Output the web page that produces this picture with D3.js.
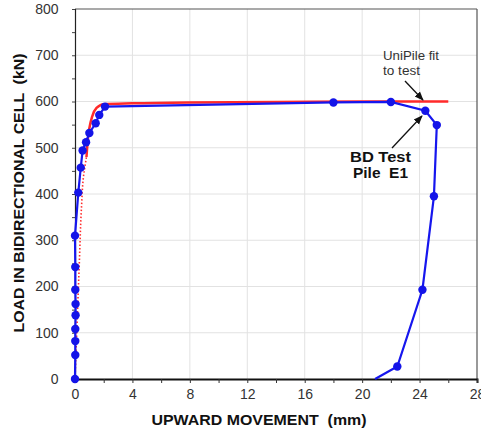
<!DOCTYPE html>
<html>
<head>
<meta charset="utf-8">
<script src="https://cdn.jsdelivr.net/npm/d3@7"></script>
<style>
  body { margin: 0; background: #fff; }
  text { font-family: Arial, "Liberation Sans", sans-serif; white-space: pre; }
</style>
</head>
<body>
<svg width="481" height="430"></svg>
<script>
// BD test, pile E1 - measured points
var testMove = [0, 0.02, 0.02, 0.02, 0.04, 0.04, 0.02, 0.02, 0.0, 0.23, 0.4, 0.53, 0.77, 1.0, 1.44, 1.69, 2.09, 18.0, 22.0, 24.4, 25.2, 25.0, 24.2, 22.45, 20.9];
var testLoad = [0, 52, 82, 108, 138, 162, 193, 242, 310, 403, 457, 494, 512, 532, 553, 571, 589, 598, 599, 580, 549, 395, 193, 27, 0];
var testMarker = [1, 1, 1, 1, 1, 1, 1, 1, 1, 1, 1, 1, 1, 1, 1, 1, 1, 1, 1, 1, 1, 1, 1, 1, 0];

// UniPile fit
var fitDotMove = [0, 0.12, 0.3, 0.45, 0.6, 0.8];
var fitDotLoad = [0, 100, 250, 370, 440, 480];
var fitMove = [0.8, 0.9, 1.0, 1.2, 1.5, 2.0, 4, 8, 14, 20, 26];
var fitLoad = [480, 520, 542, 568, 586, 594, 596, 598, 599, 600, 600];

var xTicks = [0, 4, 8, 12, 16, 20, 24, 28];
var yTicks = [0, 100, 200, 300, 400, 500, 600, 700, 800];

var svg = d3.select("svg");
var mLeft = 75, mRight = 477, mTop = 9, mBottom = 379;

var x = d3.scaleLinear().domain([0, 28]).range([mLeft, mRight]);
var y = d3.scaleLinear().domain([0, 800]).range([mBottom, mTop]);

var defs = svg.append("defs");
defs.append("marker")
    .attr("id", "arr")
    .attr("viewBox", "0 0 10 10")
    .attr("refX", 9).attr("refY", 5)
    .attr("markerWidth", 7).attr("markerHeight", 7)
    .attr("orient", "auto")
  .append("path")
    .attr("d", "M0,1 L10,5 L0,9 z")
    .attr("fill", "#111");

// grid
svg.append("g").selectAll("line")
    .data(xTicks.slice(1, -1))
    .enter().append("line")
      .attr("x1", function(d) { return x(d); })
      .attr("x2", function(d) { return x(d); })
      .attr("y1", mTop).attr("y2", mBottom)
      .attr("stroke", "#e2e2e2");
svg.append("g").selectAll("line")
    .data(yTicks.slice(1, -1))
    .enter().append("line")
      .attr("y1", function(d) { return y(d); })
      .attr("y2", function(d) { return y(d); })
      .attr("x1", mLeft).attr("x2", mRight)
      .attr("stroke", "#e2e2e2");

// frame
svg.append("line").attr("x1", mLeft).attr("x2", mRight).attr("y1", mTop).attr("y2", mTop)
    .attr("stroke", "#555").attr("stroke-width", 1.2);
svg.append("line").attr("x1", mRight).attr("x2", mRight).attr("y1", mTop).attr("y2", mBottom)
    .attr("stroke", "#555").attr("stroke-width", 1.2);

// axes
var xAxis = svg.append("g")
    .attr("transform", "translate(0," + mBottom + ")")
    .call(d3.axisBottom(x).tickValues(d3.range(0, 29, 2)).tickSize(4)
      .tickFormat(function(d) { return d % 4 === 0 ? d : ""; }));
xAxis.select(".domain").attr("stroke", "#111").attr("stroke-width", 2);
xAxis.selectAll(".tick line").attr("stroke", "#333");
xAxis.selectAll("text").attr("font-size", 14).attr("fill", "#333").attr("dy", "0.95em");

var yAxis = svg.append("g")
    .attr("transform", "translate(" + mLeft + ",0)")
    .call(d3.axisLeft(y).tickValues(d3.range(0, 801, 50)).tickSize(3)
      .tickFormat(function(d) { return d % 100 === 0 ? d : ""; }));
yAxis.select(".domain").attr("stroke", "#222").attr("stroke-width", 1.2);
yAxis.selectAll(".tick line").attr("stroke", "#444");
yAxis.selectAll("text").attr("font-size", 14).attr("fill", "#333").attr("dx", "-0.75em");

// axis titles
svg.append("text")
    .attr("x", 259).attr("y", 425)
    .attr("text-anchor", "middle")
    .attr("font-size", 15).attr("font-weight", "bold").attr("fill", "#111")
    .attr("textLength", 215).attr("lengthAdjust", "spacingAndGlyphs")
    .text("UPWARD MOVEMENT  (mm)");
svg.append("text")
    .attr("transform", "translate(24,193) rotate(-90)")
    .attr("text-anchor", "middle")
    .attr("font-size", 15).attr("font-weight", "bold").attr("fill", "#111")
    .attr("textLength", 279).attr("lengthAdjust", "spacingAndGlyphs")
    .text("LOAD IN BIDIRECTIONAL CELL  (kN)");

var line = d3.line()
    .x(function(d) { return x(d[0]); })
    .y(function(d) { return y(d[1]); });

// fit curve
svg.append("path")
    .datum(d3.zip(fitDotMove, fitDotLoad))
    .attr("d", line.curve(d3.curveMonotoneY))
    .attr("fill", "none").attr("stroke", "#ff2a2a")
    .attr("stroke-width", 1.6).attr("stroke-dasharray", "1.5,2");
svg.append("path")
    .datum(d3.zip(fitMove, fitLoad))
    .attr("d", line.curve(d3.curveMonotoneX))
    .attr("fill", "none").attr("stroke", "#ff2a2a")
    .attr("stroke-width", 2.5);

// test curve
var testData = d3.zip(testMove, testLoad, testMarker);
svg.append("path")
    .datum(testData)
    .attr("d", line.curve(d3.curveLinear))
    .attr("fill", "none").attr("stroke", "#1616ee")
    .attr("stroke-width", 2.2);
svg.append("g").selectAll("circle")
    .data(testData.filter(function(d) { return d[2]; }))
    .enter().append("circle")
      .attr("cx", function(d) { return x(d[0]); })
      .attr("cy", function(d) { return y(d[1]); })
      .attr("r", 4.2)
      .attr("fill", "#1414e8");

// annotations
svg.append("text").attr("x", 383).attr("y", 60)
    .attr("font-size", 12).attr("fill", "#333")
    .attr("textLength", 56).attr("lengthAdjust", "spacingAndGlyphs").text("UniPile fit");
svg.append("text").attr("x", 383).attr("y", 75)
    .attr("font-size", 12).attr("fill", "#333")
    .attr("textLength", 37).attr("lengthAdjust", "spacingAndGlyphs").text("to test");
svg.append("line")
    .attr("x1", 405).attr("y1", 81).attr("x2", 423).attr("y2", 100)
    .attr("stroke", "#111").attr("stroke-width", 1.3)
    .attr("marker-end", "url(#arr)");

svg.append("text").attr("x", 350).attr("y", 162)
    .attr("font-size", 15).attr("font-weight", "bold").attr("fill", "#111")
    .attr("textLength", 61).attr("lengthAdjust", "spacingAndGlyphs").text("BD Test");
svg.append("text").attr("x", 353).attr("y", 178)
    .attr("font-size", 15).attr("font-weight", "bold").attr("fill", "#111")
    .attr("textLength", 55).attr("lengthAdjust", "spacingAndGlyphs").text("Pile  E1");
svg.append("line")
    .attr("x1", 392).attr("y1", 148).attr("x2", 422).attr("y2", 116)
    .attr("stroke", "#111").attr("stroke-width", 1.3)
    .attr("marker-end", "url(#arr)");
</script>
</body>
</html>
